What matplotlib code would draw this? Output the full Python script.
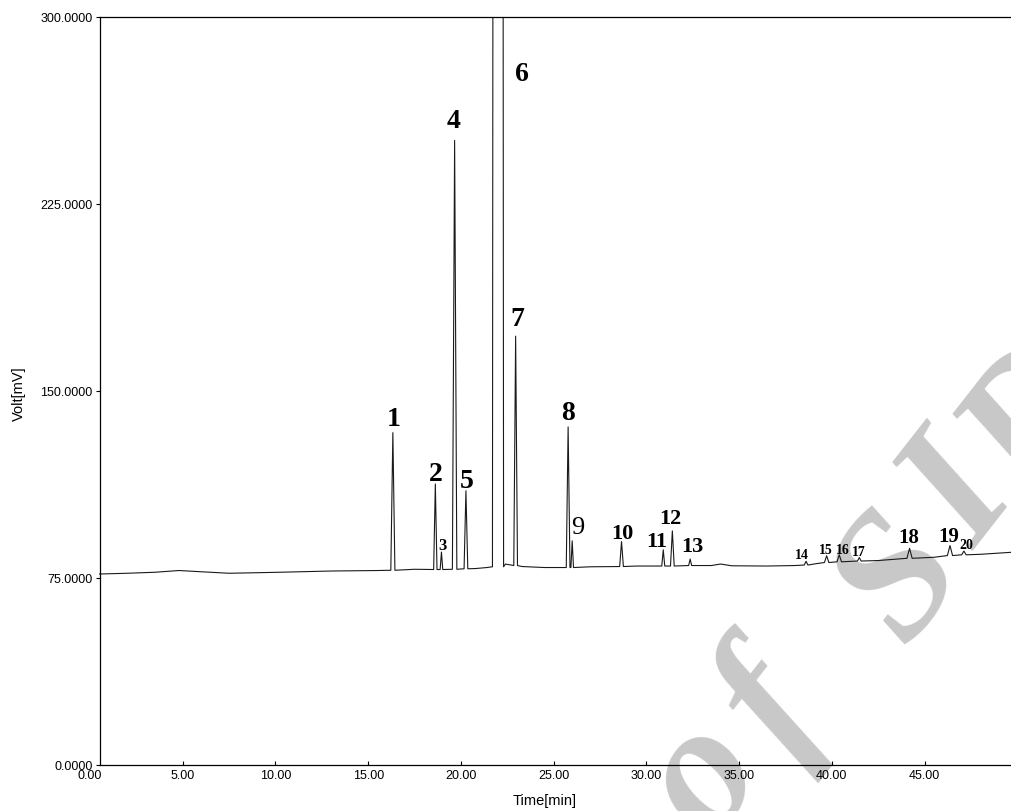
import matplotlib
matplotlib.use("Agg")
import matplotlib.pyplot as plt

# baseline readings (time in min, signal in mV), taken between the peaks
base_t = [0.52, 2.0, 3.5, 4.8, 6.0, 7.5, 10.2, 13.0, 15.5, 17.5, 20.8, 21.4,
          22.4, 23.3, 24.5, 27.0, 29.5, 33.5, 34.0, 34.6, 36.5, 38.0, 39.2,
          42.5, 45.5, 48.0, 49.66]
base_mv = [76.6, 76.9, 77.3, 78.0, 77.5, 76.9, 77.3, 77.8, 78.0, 78.5, 78.8, 79.2,
           80.6, 79.6, 79.2, 79.5, 79.8, 80.0, 80.6, 79.9, 79.8, 80.0, 80.8,
           82.0, 83.3, 84.5, 85.3]

# peaks: retention time, apex, half width at the foot, foot level
peak_id = [str(i) for i in range(1, 21)]
peak_t = [16.33, 18.62, 18.95, 19.66, 20.27, 22.0, 22.95, 25.78, 26.0, 28.66,
          30.91, 31.4, 32.36, 38.61, 39.72, 40.4, 41.48, 44.19, 46.37, 47.12]
peak_mv = [133.3, 112.7, 85.4, 250.5, 110.0, 3000.0, 172.0, 135.6, 89.9, 89.6,
           86.3, 93.9, 82.6, 81.7, 83.9, 84.3, 83.2, 86.9, 88.0, 85.8]
peak_hw = [0.11, 0.09, 0.07, 0.12, 0.10, 0.30, 0.10, 0.10, 0.07, 0.10,
           0.08, 0.10, 0.08, 0.10, 0.12, 0.12, 0.10, 0.14, 0.14, 0.12]
peak_foot = [78.1, 78.4, 78.4, 78.5, 78.7, 79.5, 80.0, 79.2, 79.2, 79.6,
             79.8, 79.8, 80.0, 80.2, 81.2, 81.5, 81.8, 82.9, 84.0, 84.3]

# where the numbers sit on the page (data units) and how big they are
label_t = [16.35, 18.64, 18.99, 19.63, 20.3, 23.27, 23.05, 25.78, 26.29, 28.7,
           30.58, 31.32, 32.47, 38.36, 39.67, 40.58, 41.48, 44.16, 46.32, 47.27]
label_mv = [138.8, 117.0, 88.4, 258.4, 114.0, 277.5, 178.9, 141.5, 95.6, 92.9,
            90.0, 98.9, 88.0, 84.6, 86.4, 86.6, 85.8, 91.3, 92.0, 88.6]
label_size = [20, 20, 12, 20, 20, 20, 20, 20, 19, 16,
              16, 16, 16, 10, 10, 10, 10, 15, 15, 10]

# assemble the trace from baseline and peak points
pts = list(zip(base_t, base_mv))
for t, h, w, f in zip(peak_t, peak_mv, peak_hw, peak_foot):
    pts += [(t - w, f), (t, h), (t + w, f)]
pts.sort()
trace_t = [p[0] for p in pts]
trace_mv = [p[1] for p in pts]

fig = plt.figure(figsize=(10.11, 8.12), dpi=100)
W, H = 1011, 812
ax = fig.add_axes([90 / W, 46 / H, 921 / W, 748 / H])
ax.patch.set_alpha(0)

ax.plot(trace_t, trace_mv, color="#1a1a1a", lw=0.8)

for lab, t, v, s in zip(peak_id, label_t, label_mv, label_size):
    weight = "normal" if lab == "9" else "bold"
    ax.text(t, v, lab, fontsize=s, fontweight=weight, family="Liberation Serif",
            ha="center", va="center")

ax.set_xlim(0, 49.66)
ax.set_ylim(0, 300)
ax.spines["right"].set_visible(False)
ax.spines["left"].set_position(("data", 0.52))
ax.spines["top"].set_bounds(0.52, 49.66)
ax.spines["bottom"].set_bounds(0.52, 49.66)
for sp in ax.spines.values():
    sp.set_linewidth(0.9)

xt = [0, 5, 10, 15, 20, 25, 30, 35, 40, 45]
yt = [0, 75, 150, 225, 300]
ax.set_xticks(xt)
ax.set_xticklabels([f"{v:.2f}" for v in xt])
ax.set_yticks(yt)
ax.set_yticklabels([f"{v:.4f}" for v in yt])
ax.tick_params(axis="x", direction="in", length=3, pad=3, labelsize=9)
ax.tick_params(axis="y", direction="out", length=3, pad=2, labelsize=9)
ax.xaxis.get_major_ticks()[0].tick1line.set_visible(False)
for lbl in ax.get_xticklabels() + ax.get_yticklabels():
    lbl.set_family("Liberation Sans")

fig.text(545 / W, 1 - 801 / H, "Time[min]", ha="center", va="center",
         fontsize=10.5, family="Liberation Sans")
fig.text(19 / W, 1 - 394 / H, "Volt[mV]", ha="center", va="center",
         rotation=90, fontsize=10.5, family="Liberation Sans")

# grey watermark of the scanned page, letter by letter (pixel centres)
wm_letters = ["o", "f", "S", "I", "D"]
wm_x = [704, 772, 902, 962, 1040]
wm_y = [778, 708, 580, 497, 425]
for ch, x, y in zip(wm_letters, wm_x, wm_y):
    fig.text(x / W, 1 - y / H, ch, ha="center", va="center", rotation=52,
             fontsize=130, fontweight="bold", style="italic",
             family="Liberation Serif", color="#c8c8c8", zorder=-1)

fig.savefig("out.png", dpi=100)
